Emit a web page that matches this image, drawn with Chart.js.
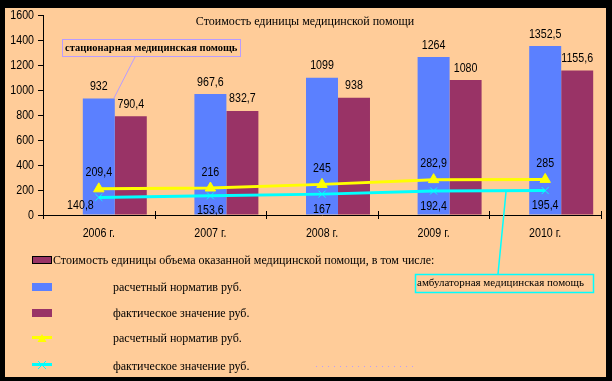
<!DOCTYPE html>
<html>
<head>
<meta charset="utf-8">
<script src="https://cdn.jsdelivr.net/npm/chart.js@4/dist/chart.umd.min.js"></script>
<style>
  html, body { margin: 0; padding: 0; background: #000; }
  canvas { display: block; }
</style>
</head>
<body>
<canvas id="c" width="612" height="381"></canvas>
<script>
// ---- data ----
const categories = ['2006 г.', '2007 г.', '2008 г.', '2009 г.', '2010 г.'];
const hospitalNorm = [932, 967.6, 1099, 1264, 1352.5];
const hospitalActual = [790.4, 832.7, 938, 1080, 1155.6];
const outpatientNorm = [209.4, 216, 245, 282.9, 285];
const outpatientActual = [140.8, 153.6, 167, 192.4, 195.4];
const totalPlaceholder = [null, null, null, null, null];
const chartTitle = 'Стоимость единицы медицинской помощи';
const totalLabel = 'Стоимость единицы объема оказанной медицинской помощи, в том числе:';
const normLabel = 'расчетный норматив руб.';
const actualLabel = 'фактическое значение руб.';
const hospitalNote = 'стационарная медицинская помощь';
const outpatientNote = 'амбулаторная медицинская помощь';
const yMin = 0, yMax = 1600, yStep = 200;

const PEACH = '#FFCC99';
const BLUE = '#5B80FF';
const PURPLE = '#993366';
const YELLOW = '#FFFF00';
const CYAN = '#00FFFF';
const LAVENDER = '#B89CFF';
const SANS = '13px "Liberation Sans"';
const SQUEEZE = 0.82;

const fmt = v => String(v).replace('.', ',');

function narrowText(ctx, text, x, y, align) {
  ctx.save();
  ctx.translate(x, y);
  ctx.scale(SQUEEZE, 1);
  ctx.font = SANS;
  ctx.textAlign = align;
  ctx.textBaseline = 'middle';
  ctx.fillText(text, 0, 0);
  ctx.restore();
}

const decor = {
  id: 'decor',
  beforeDraw(chart) {
    const ctx = chart.ctx;
    ctx.save();
    ctx.fillStyle = '#000';
    ctx.fillRect(0, 0, chart.width, chart.height);
    ctx.fillStyle = PEACH;
    ctx.fillRect(5, 8, 601, 369);
    ctx.restore();
  },
  afterDraw(chart) {
    const ctx = chart.ctx;
    const xs = chart.scales.x;
    const ys = chart.scales.y;
    const ca = chart.chartArea;
    ctx.save();
    // x tick marks (cross the axis)
    ctx.strokeStyle = '#000';
    ctx.lineWidth = 1;
    const n = categories.length;
    const w = (xs.getPixelForValue(1) - xs.getPixelForValue(0));
    for (let i = 0; i <= n; i++) {
      const x = Math.round(xs.getPixelForValue(0) - w / 2 + i * w) + 0.5;
      ctx.beginPath(); ctx.moveTo(x, ca.bottom - 4); ctx.lineTo(x, ca.bottom + 4); ctx.stroke();
    }
    ctx.fillStyle = '#000';
    // y tick labels
    ys.ticks.forEach(t => narrowText(ctx, String(t.value), ca.left - 9, ys.getPixelForValue(t.value), 'right'));
    // category labels
    categories.forEach((c, i) => narrowText(ctx, c, xs.getPixelForValue(i), ca.bottom + 18, 'center'));

    // title
    ctx.font = '12px "Liberation Serif"';
    ctx.textAlign = 'center'; ctx.textBaseline = 'middle';
    ctx.fillText(chartTitle, 305, 22);

    // data labels
    const lab = (di, dy, special) => {
      const meta = chart.getDatasetMeta(di);
      const ds = chart.data.datasets[di];
      meta.data.forEach((el, j) => {
        if (ds.data[j] == null) return;
        const r = special ? special(j) : null;
        if (r) narrowText(ctx, fmt(ds.data[j]), el.x + r.dx, el.y + r.dy, r.align);
        else narrowText(ctx, fmt(ds.data[j]), el.x, el.y + dy, 'center');
      });
    };
    lab(1, -12);
    lab(2, -12);
    lab(3, -16);
    lab(4, 15, j => j === 0 ? {align: 'right', dx: -5, dy: 8} : null);

    // annotation: hospital
    ctx.strokeStyle = LAVENDER; ctx.lineWidth = 1;
    ctx.strokeRect(62.5, 39.5, 178, 17);
    ctx.beginPath(); ctx.moveTo(135, 57); ctx.lineTo(114, 98); ctx.stroke();
    ctx.fillStyle = '#000';
    ctx.font = 'bold 10.5px "Liberation Serif"';
    ctx.textAlign = 'left'; ctx.textBaseline = 'middle';
    ctx.fillText(hospitalNote, 65, 48.5);

    // annotation: outpatient
    ctx.strokeStyle = CYAN; ctx.lineWidth = 1.5;
    ctx.strokeRect(415.5, 274.5, 178, 18);
    ctx.beginPath(); ctx.moveTo(506, 192); ctx.lineTo(498, 274); ctx.stroke();
    ctx.font = '11px "Liberation Serif"';
    ctx.fillText(outpatientNote, 417, 283.5);

    // dotted trace
    ctx.fillStyle = LAVENDER;
    for (let x = 316; x <= 412; x += 6) ctx.fillRect(x, 366, 1, 1);

    // legend
    ctx.font = '12px "Liberation Serif"';
    ctx.fillStyle = PURPLE; ctx.fillRect(32, 256, 20, 8);
    ctx.strokeStyle = '#000'; ctx.lineWidth = 1; ctx.strokeRect(32.5, 256.5, 19, 7);
    ctx.fillStyle = '#000'; ctx.fillText(totalLabel, 53, 261);

    ctx.fillStyle = BLUE; ctx.fillRect(32, 283, 20, 8);
    ctx.fillStyle = '#000'; ctx.fillText(normLabel, 113, 288);
    ctx.fillStyle = PURPLE; ctx.fillRect(32, 309, 20, 8);
    ctx.fillStyle = '#000'; ctx.fillText(actualLabel, 113, 314);

    // yellow line + triangle
    ctx.strokeStyle = YELLOW; ctx.lineWidth = 3;
    ctx.beginPath(); ctx.moveTo(32, 337.5); ctx.lineTo(52, 337.5); ctx.stroke();
    ctx.fillStyle = YELLOW;
    ctx.beginPath(); ctx.moveTo(42, 334); ctx.lineTo(46.5, 342); ctx.lineTo(37.5, 342); ctx.closePath(); ctx.fill();
    ctx.fillStyle = '#000'; ctx.fillText(normLabel, 113, 339);

    // cyan line + x
    ctx.strokeStyle = CYAN; ctx.lineWidth = 3;
    ctx.beginPath(); ctx.moveTo(32, 364.5); ctx.lineTo(52, 364.5); ctx.stroke();
    ctx.lineWidth = 1;
    ctx.beginPath(); ctx.moveTo(38, 361); ctx.lineTo(46, 369); ctx.moveTo(46, 361); ctx.lineTo(38, 369); ctx.stroke();
    ctx.fillStyle = '#000'; ctx.fillText(actualLabel, 113, 367);
    ctx.restore();
  }
};

new Chart(document.getElementById('c'), {
  data: {
    labels: categories,
    datasets: [
      { type: 'bar', label: totalLabel, data: totalPlaceholder, backgroundColor: PURPLE, borderColor: '#000', order: 1 },
      { type: 'bar', label: normLabel, data: hospitalNorm, backgroundColor: BLUE, order: 1 },
      { type: 'bar', label: actualLabel, data: hospitalActual, backgroundColor: PURPLE, order: 1 },
      { type: 'line', label: normLabel, data: outpatientNorm, borderColor: YELLOW, backgroundColor: YELLOW,
        borderWidth: 3, pointStyle: 'triangle', pointRadius: 6, pointBorderWidth: 1, tension: 0, order: 0 },
      { type: 'line', label: actualLabel, data: outpatientActual, borderColor: CYAN, backgroundColor: CYAN,
        borderWidth: 3, pointStyle: 'crossRot', pointRadius: 5, pointBorderWidth: 1, tension: 0, order: 0 }
    ]
  },
  options: {
    responsive: false,
    devicePixelRatio: 1,
    animation: false,
    datasets: { bar: { categoryPercentage: 0.86, barPercentage: 1 } },
    layout: { padding: { left: 0, top: 15, right: 11, bottom: 136 } },
    plugins: { legend: { display: false }, title: { display: false }, tooltip: { enabled: false } },
    scales: {
      x: {
        type: 'category',
        offset: true,
        grid: { display: false },
        border: { display: true, color: '#000', width: 1 },
        ticks: { display: false },
        afterFit(s) { s.height = 30; }
      },
      y: {
        min: yMin, max: yMax,
        grid: { display: true, drawOnChartArea: false, drawTicks: true, tickLength: 5, color: '#000' },
        border: { display: true, color: '#000', width: 1 },
        ticks: { stepSize: yStep, display: false },
        afterFit(s) { s.width = 43; }
      }
    }
  },
  plugins: [decor]
});
</script>
</body>
</html>
